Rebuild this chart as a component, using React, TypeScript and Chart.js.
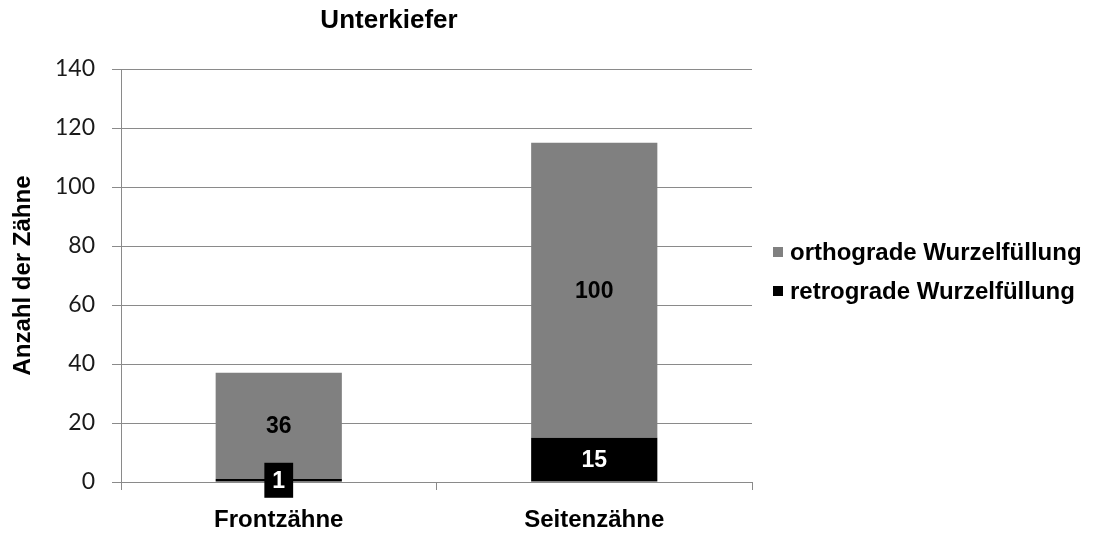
import React, { useEffect, useRef } from "react";
import { Chart, registerables } from "chart.js";

Chart.register(...registerables);

const categories = ["Frontzähne", "Seitenzähne"];
const retrograde = [1, 15];
const orthograde = [36, 100];
const retroLabels = ["1", "15"];
const orthoLabels = ["36", "100"];
const seriesNames = ["retrograde Wurzelfüllung", "orthograde Wurzelfüllung"];
const chartTitle = "Unterkiefer";
const yTitle = "Anzahl der Zähne";

const GRID = "#8a8a8a";
const BOLD = "'Liberation Sans', Arial, sans-serif";

const titlePlugin = {
  id: "customTitle",
  afterDraw(chart: any) {
    const ctx = chart.ctx;
    ctx.save();
    ctx.font = `bold 26px ${BOLD}`;
    ctx.fillStyle = "#000";
    ctx.textAlign = "center";
    ctx.textBaseline = "middle";
    ctx.fillText(chartTitle, 389, 21);
    ctx.restore();
  },
};

const legendPlugin = {
  id: "customLegend",
  afterDraw(chart: any) {
    const ctx = chart.ctx;
    const items = [
      { text: seriesNames[1], color: "#808080" },
      { text: seriesNames[0], color: "#000000" },
    ];
    const x0 = chart.chartArea.right + 21;
    const mid = (chart.chartArea.top + chart.chartArea.bottom) / 2;
    const rowH = 39;
    ctx.save();
    ctx.font = `bold 24px ${BOLD}`;
    ctx.textBaseline = "middle";
    ctx.textAlign = "left";
    items.forEach((it, i) => {
      const cy = mid - rowH / 2 + i * rowH - 4;
      ctx.fillStyle = it.color;
      ctx.fillRect(x0, cy - 5, 10, 10);
      ctx.fillStyle = "#000";
      ctx.fillText(it.text, x0 + 17, cy + 1);
    });
    ctx.restore();
  },
};

const labelPlugin = {
  id: "barLabels",
  afterDatasetsDraw(chart: any) {
    const ctx = chart.ctx;
    ctx.save();
    ctx.font = `bold 23px ${BOLD}`;
    ctx.textAlign = "center";
    ctx.textBaseline = "middle";
    chart.data.datasets.forEach((ds: any, di: number) => {
      const meta = chart.getDatasetMeta(di);
      meta.data.forEach((el: any, i: number) => {
        const cx = el.x;
        const cy = (el.y + el.base) / 2;
        const txt = di === 0 ? retroLabels[i] : orthoLabels[i];
        if (di === 0) {
          const w = ctx.measureText(txt).width + 16;
          ctx.fillStyle = "#000";
          ctx.fillRect(cx - w / 2, cy - 17.5, w, 35);
          ctx.fillStyle = "#fff";
        } else {
          ctx.fillStyle = "#000";
        }
        ctx.fillText(txt, cx, cy + 1);
      });
    });
    ctx.restore();
  },
};

export default function App() {
  const ref = useRef<HTMLCanvasElement | null>(null);
  useEffect(() => {
    if (!ref.current) return;
    const chart = new Chart(ref.current, {
      type: "bar",
      data: {
        labels: categories,
        datasets: [
          {
            label: seriesNames[0],
            data: retrograde,
            backgroundColor: "#000000",
            categoryPercentage: 1,
            barPercentage: 0.4,
          },
          {
            label: seriesNames[1],
            data: orthograde,
            backgroundColor: "#808080",
            categoryPercentage: 1,
            barPercentage: 0.4,
          },
        ],
      },
      options: {
        animation: false,
        responsive: false,
        devicePixelRatio: 1,
        layout: { padding: { top: 69, right: 341, bottom: 0, left: 0 } },
        plugins: {
          legend: { display: false },
          title: { display: false },
          tooltip: { enabled: false },
        },
        scales: {
          x: {
            stacked: true,
            afterFit(scale: any) {
              scale.height = 57;
            },
            grid: {
              display: true,
              offset: true,
              drawOnChartArea: false,
              drawTicks: true,
              tickLength: 8,
              color: GRID,
            },
            border: { display: true, color: GRID },
            ticks: {
              color: "#000",
              padding: 16,
              font: { family: BOLD, size: 24, weight: "bold" },
            },
          },
          y: {
            stacked: true,
            min: 0,
            max: 140,
            afterFit(scale: any) {
              scale.width = 121;
            },
            grid: { color: GRID, tickLength: 9, drawTicks: true },
            border: { display: true, color: GRID },
            ticks: {
              stepSize: 20,
              color: "#1a1a1a",
              padding: 17,
              font: { family: "Lato, 'Open Sans', sans-serif", size: 23 },
            },
            title: {
              display: true,
              text: yTitle,
              color: "#000",
              padding: { top: 9, bottom: 0 },
              font: { family: BOLD, size: 24, weight: "bold" },
            },
          },
        },
      },
      plugins: [titlePlugin, legendPlugin, labelPlugin],
    });
    return () => chart.destroy();
  }, []);
  return (
    <div style={{ position: "absolute", left: 0, top: 0, width: 1093, height: 539 }}>
      <canvas ref={ref} width={1093} height={539} />
    </div>
  );
}
